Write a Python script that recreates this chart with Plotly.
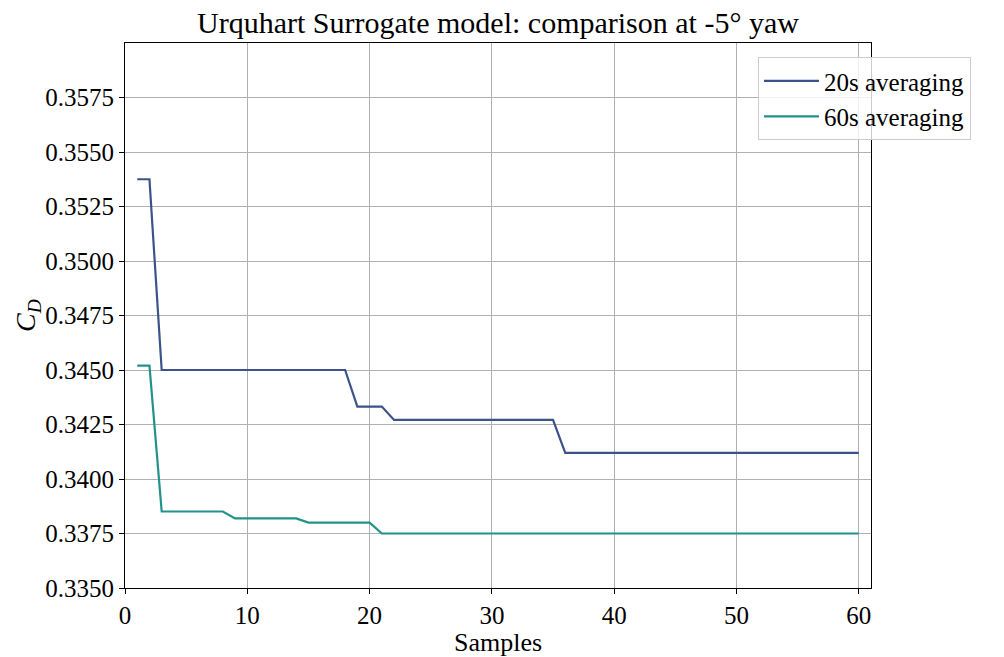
import plotly.graph_objects as go

# Drag coefficient vs number of samples for two averaging windows
samples = list(range(1, 61))

cd_20s_steps = [(1, 0.35375), (3, 0.3450), (19, 0.34332), (22, 0.34271), (36, 0.3412)]
cd_60s_steps = [(1, 0.3452), (3, 0.33851), (9, 0.33819), (15, 0.3380), (21, 0.3375)]


def expand(steps, xs):
    out = []
    for x in xs:
        val = None
        for start, v in steps:
            if x >= start:
                val = v
        out.append(val)
    return out


cd_20s = expand(cd_20s_steps, samples)
cd_60s = expand(cd_60s_steps, samples)

FONT = "Liberation Serif"

fig = go.Figure()
fig.add_trace(go.Scatter(x=samples, y=cd_20s, mode="lines", name="20s averaging",
                         line=dict(color="#3b528b", width=2.2)))
fig.add_trace(go.Scatter(x=samples, y=cd_60s, mode="lines", name="60s averaging",
                         line=dict(color="#21918c", width=2.2)))

axis_common = dict(showline=True, linecolor="black", linewidth=1.2, mirror=True,
                   ticks="outside", ticklen=5, tickcolor="black",
                   showgrid=True, gridcolor="#b0b0b0", gridwidth=1.2,
                   zeroline=False, automargin=False,
                   tickfont=dict(family=FONT, size=25, color="black"))

fig.update_layout(
    width=1004, height=657,
    margin=dict(l=125, r=133, t=43, b=69),
    paper_bgcolor="white", plot_bgcolor="white",
    title=dict(text="Urquhart Surrogate model: comparison at -5° yaw",
               x=0.5, xref="paper", xanchor="center", y=0.965, yanchor="middle",
               font=dict(family=FONT, size=30, color="black")),
    xaxis=dict(range=[0, 61], tickvals=[0, 10, 20, 30, 40, 50, 60],
               title=dict(text="Samples", font=dict(family=FONT, size=26, color="black"), standoff=0),
               **axis_common),
    yaxis=dict(range=[0.335, 0.36],
               tickvals=[0.335, 0.3375, 0.34, 0.3425, 0.345, 0.3475, 0.35, 0.3525, 0.355, 0.3575],
               tickformat=".4f",
               title=dict(text="<i>C</i><sub><i>D</i></sub>", font=dict(family=FONT, size=28, color="black"), standoff=0),
               **axis_common),
    legend=dict(x=0.8485, y=0.974, xanchor="left", yanchor="top",
                itemwidth=55, tracegroupgap=0,
                bgcolor="rgba(255,255,255,0.8)", bordercolor="#cccccc", borderwidth=1,
                font=dict(family=FONT, size=25, color="black")),
    showlegend=True,
)

fig.write_html("out.html")
